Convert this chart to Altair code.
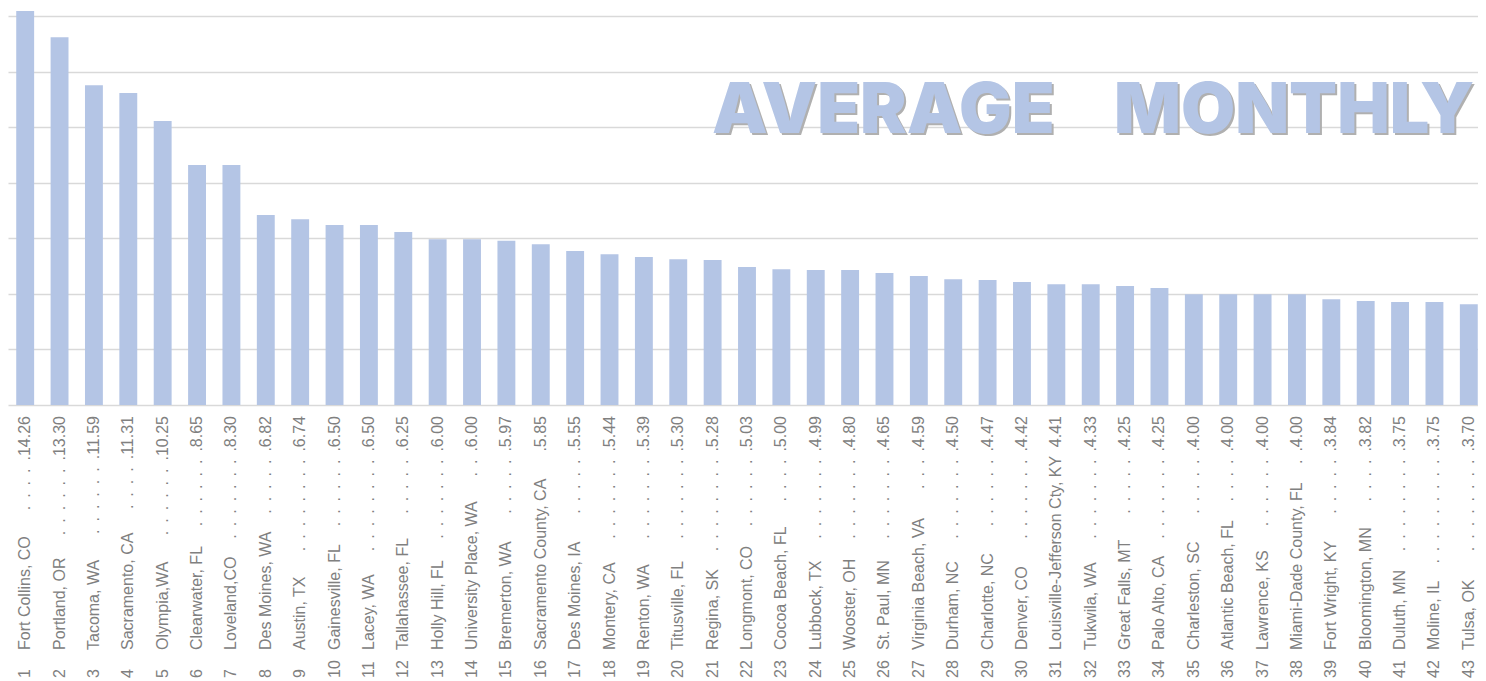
import altair as alt
import pandas as pd

# ---------------- data ----------------
ranks = list(range(1, 44))
cities = [
    "Fort Collins, CO", "Portland, OR", "Tacoma, WA", "Sacramento, CA", "Olympia,WA",
    "Clearwater, FL", "Loveland,CO", "Des Moines, WA", "Austin, TX", "Gainesville, FL",
    "Lacey, WA", "Tallahassee, FL", "Holly Hill, FL", "University Place, WA", "Bremerton, WA",
    "Sacramento County, CA", "Des Moines, IA", "Montery, CA", "Renton, WA", "Titusville, FL",
    "Regina, SK", "Longmont, CO", "Cocoa Beach, FL", "Lubbock, TX", "Wooster, OH",
    "St. Paul, MN", "Virginia Beach, VA", "Durham, NC", "Charlotte, NC", "Denver, CO",
    "Louisville-Jefferson Cty, KY", "Tukwila, WA", "Great Falls, MT", "Palo Alto, CA", "Charleston, SC",
    "Atlantic Beach, FL", "Lawrence, KS", "Miami-Dade County, FL", "Fort Wright, KY", "Bloomington, MN",
    "Duluth, MN", "Moline, IL", "Tulsa, OK",
]
label_values = [
    "14.26", "13.30", "11.59", "11.31", "10.25", "8.65", "8.30", "6.82", "6.74", "6.50",
    "6.50", "6.25", "6.00", "6.00", "5.97", "5.85", "5.55", "5.44", "5.39", "5.30",
    "5.28", "5.03", "5.00", "4.99", "4.80", "4.65", "4.59", "4.50", "4.47", "4.42",
    "4.41", "4.33", "4.25", "4.25", "4.00", "4.00", "4.00", "4.00", "3.84", "3.82",
    "3.75", "3.75", "3.70",
]
bar_heights = [
    14.18, 13.24, 11.51, 11.23, 10.22, 8.64, 8.64, 6.84, 6.69, 6.48,
    6.48, 6.23, 5.97, 5.97, 5.91, 5.79, 5.54, 5.43, 5.33, 5.25,
    5.22, 4.97, 4.89, 4.86, 4.86, 4.75, 4.64, 4.53, 4.50, 4.43,
    4.35, 4.35, 4.28, 4.21, 3.99, 3.99, 3.99, 3.99, 3.81, 3.74,
    3.71, 3.71, 3.63,
]
grid_values = [0, 2, 4, 6, 8, 10, 12, 14]
title_words = ["AVERAGE", "MONTHLY"]

# ---------------- styling ----------------
FONT = "Liberation Sans"
FS = 16
TXT = "#808080"
BAR = "#b4c5e5"
NAME_OFF = 245   # distance below axis where the city name starts
IDX_OFF = 273    # distance below axis where the rank starts
VAL_OFF = 11     # distance below axis where the value ends

# Arial / Liberation Sans advance widths (per 1000 em) to size the dot leaders
AW = {" ": 278, ",": 278, "-": 333, ".": 278, "\u2002": 500}
for c in "0123456789":
    AW[c] = 556
AW.update(dict(zip("ABCDEFGHIJKLMNOPQRSTUVWXYZ",
                   [667, 667, 722, 722, 667, 611, 778, 722, 278, 500, 667, 556, 833,
                    722, 778, 667, 778, 722, 667, 611, 722, 667, 944, 667, 667, 611])))
AW.update(dict(zip("abcdefghijklmnopqrstuvwxyz",
                   [556, 556, 500, 556, 556, 278, 556, 556, 222, 222, 500, 222, 833,
                    556, 556, 556, 556, 333, 500, 278, 556, 500, 722, 500, 500, 500])))


def tw(s):
    return sum(AW.get(c, 556) for c in s) / 1000 * FS


unit = ".\u2002"
value_texts = []
for name, v in zip(cities, label_values):
    free = (NAME_OFF - VAL_OFF) - tw(name) - tw(v) - 8
    k = int(free // tw(unit))
    if k <= 0:
        value_texts.append(v)
    else:
        value_texts.append(unit * (k - 1) + "." + v)

df = pd.DataFrame({
    "rank": ranks,
    "rank_text": [str(r) for r in ranks],
    "city": cities,
    "bar": bar_heights,
    "value_text": value_texts,
})

xscale = alt.Scale(range=[0, 1478], paddingInner=0.4793, round=False)
base = alt.Chart(df).encode(x=alt.X("rank:O", scale=xscale, axis=None))

bars = base.mark_bar(color=BAR).encode(
    y=alt.Y(
        "bar:Q",
        scale=alt.Scale(domain=[0, 14.29], nice=False, zero=True),
        axis=alt.Axis(values=grid_values, grid=True, labels=False, ticks=False,
                      domain=False, title=None, gridColor="#d9d9d9", gridWidth=1.5),
    )
)

txt_common = dict(angle=270, baseline="middle", font=FONT, fontSize=FS, color=TXT)
idx = base.mark_text(align="left", dx=-IDX_OFF, **txt_common).encode(
    y=alt.datum(0), text="rank_text:N")
names = base.mark_text(align="left", dx=-NAME_OFF, **txt_common).encode(
    y=alt.datum(0), text="city:N")
vals = base.mark_text(align="right", dx=-VAL_OFF, **txt_common).encode(
    y=alt.datum(0), text="value_text:N")

tdf = pd.DataFrame({"word": title_words, "pos": [0, 1]})
title_font = dict(font="Inter", fontSize=70, fontWeight=900, align="left", baseline="alphabetic")


def word_layer(i, xpos, color, shift):
    return alt.Chart(tdf).transform_filter(f"datum.pos == {i}").mark_text(
        color=color, dx=shift, dy=shift, **title_font).encode(
        x=alt.value(xpos), y=alt.value(125), text="word:N")


t1_shadow = word_layer(0, 704, "#b0b0b0", 2)
t1 = word_layer(0, 704, BAR, 0)
t2_shadow = word_layer(1, 1106, "#b0b0b0", 2)
t2 = word_layer(1, 1106, BAR, 0)

chart = alt.layer(bars, idx, names, vals, t1_shadow, t1, t2_shadow, t2).properties(
    width=1470, height=397,
    padding={"left": 0, "top": 0, "right": 0, "bottom": 280},
    autosize=alt.AutoSizeParams(type="none"),
    background="white",
).configure_view(stroke=None)

chart.save("out.html", embed_options={"renderer": "svg", "actions": False})
